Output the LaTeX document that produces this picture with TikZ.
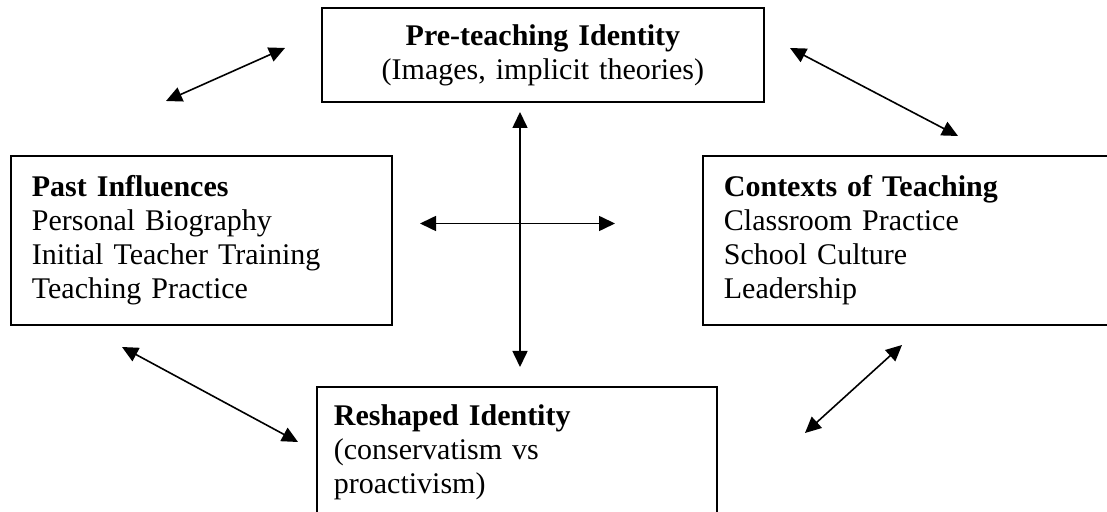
\documentclass[tikz,border=0pt]{standalone}
\usepackage{fontspec}
\setmainfont{Liberation Serif}
\usetikzlibrary{arrows.meta}

\begin{document}
\begin{tikzpicture}[x=0.5pt,y=-0.5pt,
  box/.style={draw, line width=0.9pt, anchor=north west, inner ysep=0pt,
    font=\fontsize{15}{17}\selectfont},
  link/.style={{Triangle[length=8pt,width=7.5pt]}-{Triangle[length=8pt,width=7.5pt]},
    line width=0.8pt},]

\clip (0,0) rectangle (1107,512);

% Boxes
\node [box, align=center, inner xsep=0pt, text width=221pt, minimum height=47pt]
  (pre) at (321,7)
  {\textbf{Pre-teaching Identity}\\(Images, implicit theories)};
\node [box, align=left, inner xsep=10.5pt, text width=169.5pt, minimum height=84.5pt]
  (past) at (10,155)
  {\textbf{Past Influences}\\Personal Biography\\Initial Teacher Training\\Teaching Practice};
\node [box, align=left, inner xsep=10.5pt, text width=198pt, minimum height=84.5pt]
  (ctx) at (702,155)
  {\textbf{Contexts of Teaching}\\Classroom Practice\\School Culture\\Leadership};
\node [box, align=left, inner xsep=8.5pt, text width=183pt, minimum height=65pt]
  (resh) at (316,386)
  {\textbf{Reshaped Identity}\\(conservatism vs\\proactivism)};

% Arrow ends
\coordinate (pre left)   at (285,48);
\coordinate (past top)   at (166,101);
\coordinate (pre right)  at (790,48);
\coordinate (ctx top)    at (958,136);
\coordinate (mid top)    at (520,112);
\coordinate (mid bottom) at (520,367);
\coordinate (mid left)   at (420,223.5);
\coordinate (mid right)  at (615,223.5);
\coordinate (past bottom) at (122,347);
\coordinate (resh left)  at (298,442);
\coordinate (resh right) at (805,433);
\coordinate (ctx bottom) at (902,345);

% Arrows
\draw [link] (past top) -- (pre left);
\draw [link] (pre right) -- (ctx top);
\draw [link] (mid top) -- (mid bottom);
\draw [link] (mid left) -- (mid right);
\draw [link] (past bottom) -- (resh left);
\draw [link] (resh right) -- (ctx bottom);

\end{tikzpicture}
\end{document}
